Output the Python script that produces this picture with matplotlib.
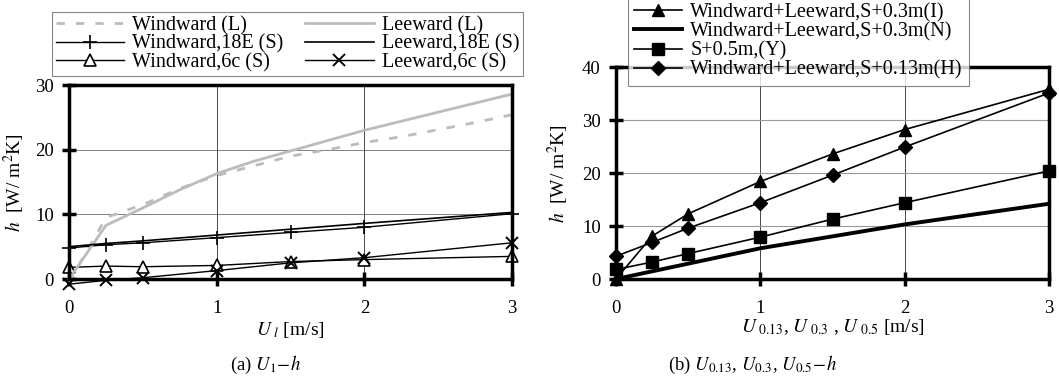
import matplotlib
matplotlib.use("Agg")
import matplotlib.pyplot as plt

plt.rcParams['font.family'] = ['Liberation Serif', 'DejaVu Serif']
plt.rcParams['mathtext.fontset'] = 'stix'
plt.rcParams['font.size'] = 13

# ---- panel (a) data ----
u_l = [0, 0.25, 0.5, 0.75, 1, 1.25, 1.5, 1.75, 2, 2.25, 2.5, 2.75, 3]
wind_L = [-0.5, 9.5, 11.5, 14.0, 16.0, 17.5, 19.0, 20.0, 21.1, 22.0, 23.1, 24.2, 25.4]
lee_L = [0.0, 8.3, 11.0, 13.8, 16.3, 18.2, 19.8, 21.4, 23.0, 24.4, 25.8, 27.2, 28.6]

u_s = [0, 0.25, 0.5, 1, 1.5, 2, 3]
wind_18e = [4.8, 5.3, 5.6, 6.4, 7.2, 8.0, 10.1]
lee_18e = [5.0, 5.5, 5.9, 6.8, 7.7, 8.6, 10.3]
wind_6c = [1.8, 2.0, 1.9, 2.1, 2.7, 3.0, 3.5]
lee_6c = [-0.8, -0.2, 0.2, 1.3, 2.5, 3.3, 5.6]

# ---- panel (b) data ----
u_b = [0, 0.25, 0.5, 1, 1.5, 2, 3]
h_I = [0.0, 8.1, 12.3, 18.4, 23.6, 28.2, 35.8]
h_Y = [1.8, 3.2, 4.8, 7.9, 11.3, 14.4, 20.4]
h_H = [4.3, 6.9, 9.6, 14.4, 19.6, 24.9, 35.1]
u_n = [0, 1, 2, 3]
h_N = [0.0, 5.8, 10.3, 14.2]

fig = plt.figure(figsize=(10.59, 3.84), dpi=100)
ax1 = fig.add_axes([0.0652, 0.2734, 0.4183, 0.5052])
ax2 = fig.add_axes([0.5817, 0.2734, 0.4089, 0.5521])

gray = '#bcbcbc'
ax1.plot(u_l, wind_L, color=gray, lw=2, ls=(0, (3, 4)), label='Windward (L)', clip_on=False)
ax1.plot(u_s, wind_18e, color='k', lw=1, marker='+', ms=10, mew=1.2, label='Windward,18E (S)', clip_on=False)
ax1.plot(u_s, wind_6c, color='k', lw=1, marker='^', ms=8, mfc='white', mew=1.2, label='Windward,6c (S)', clip_on=False)
ax1.plot(u_l, lee_L, color=gray, lw=2, label='Leeward (L)', clip_on=False)
ax1.plot(u_s, lee_18e, color='k', lw=1.2, label='Leeward,18E (S)', clip_on=False)
ax1.plot(u_s, lee_6c, color='k', lw=1, marker='x', ms=9, mew=1.4, label='Leeward,6c (S)', clip_on=False)

ax1.set_xlim(0, 3)
ax1.set_ylim(0, 30)
ax1.set_xticks([0, 1, 2, 3])
ax1.set_yticks([0, 10, 20, 30])
ax1.set_xlabel(r'$U_{\ l}$ [m/s]', labelpad=2, fontsize=14)
ax1.set_ylabel(r'$h$  [W/ m$^2$K]', labelpad=6, fontsize=14)

ax2.plot(u_b, h_I, color='k', lw=1.2, marker='^', ms=9, label='Windward+Leeward,S+0.3m(I)', clip_on=False)
ax2.plot(u_n, h_N, color='k', lw=2.8, label='Windward+Leeward,S+0.3m(N)', clip_on=False)
ax2.plot(u_b, h_Y, color='k', lw=1.2, marker='s', ms=9, label='S+0.5m,(Y)', clip_on=False)
ax2.plot(u_b, h_H, color='k', lw=1.2, marker='D', ms=7, label='Windward+Leeward,S+0.13m(H)', clip_on=False)

ax2.set_xlim(0, 3)
ax2.set_ylim(0, 40)
ax2.set_xticks([0, 1, 2, 3])
ax2.set_yticks([0, 10, 20, 30, 40])
ax2.set_xlabel(r'$U_{\ 0.13}$, $U_{\ 0.3}$ , $U_{\ 0.5}$ [m/s]', labelpad=0, fontsize=14)
ax2.set_ylabel(r'$h$  [W/ m$^2$K]', labelpad=8, fontsize=14)

for ax in (ax1, ax2):
    for s in ax.spines.values():
        s.set_linewidth(2.5)
    ax.tick_params(direction='inout', length=10, width=2.5, labelsize=13.5)
    ax.tick_params(axis='x', pad=10)
    ax.tick_params(axis='y', pad=6)
    ax.xaxis.grid(True, color='k', lw=0.5)
ax1.yaxis.grid(True, color='0.3', lw=0.5)
ax2.yaxis.grid(True, color='0.6', lw=0.8)

leg1 = fig.legend(handles=ax1.get_lines(), loc='lower left', ncol=2, mode='expand',
                  bbox_to_anchor=(0.049, 0.802, 0.445, 0.177), borderaxespad=0,
                  frameon=True, fancybox=False, edgecolor='0.4', fontsize=14.5,
                  handlelength=3.4, labelspacing=-0.05, borderpad=0.2,
                  columnspacing=0.8, handletextpad=0.4)
leg1.get_frame().set_linewidth(0.8)

leg2 = fig.legend(handles=ax2.get_lines(), loc='lower left', borderaxespad=0,
                  bbox_to_anchor=(0.593, 1 - 86 / 384), frameon=True, fancybox=False,
                  edgecolor='0.4', fontsize=14.5, handlelength=2.4, labelspacing=0.0,
                  borderpad=0.3, handletextpad=0.4)
leg2.get_frame().set_linewidth(0.8)

fig.text(0.251, 0.05, r'(a) $U_1\!-\!h$', ha='center', va='center', fontsize=13.5)
fig.text(0.711, 0.05, r'(b) $U_{0.13}$, $U_{0.3}$, $U_{0.5}\!-\!h$', ha='center', va='center', fontsize=13.5)

fig.savefig('out.png', dpi=100)
